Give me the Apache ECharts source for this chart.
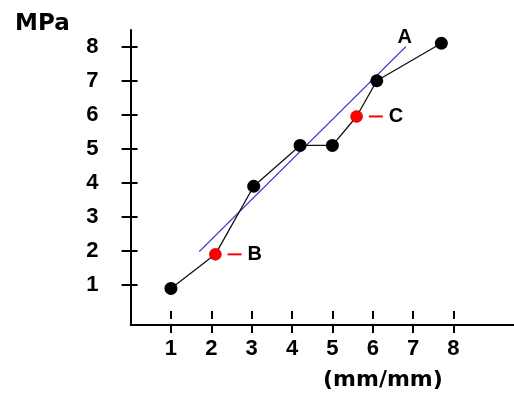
<!DOCTYPE html>
<html>
<head>
<meta charset="utf-8">
<style>
  html, body { margin: 0; padding: 0; background: #ffffff; }
  #chart { width: 514px; height: 395px; }
</style>
<script src="https://cdn.jsdelivr.net/npm/echarts@6/dist/echarts.min.js"></script>
</head>
<body>
<div id="chart"></div>
<script>
// Measured stress–strain points (strain in mm/mm, stress in MPa)
const strain = [1.0, 2.1, 3.05, 4.2, 5.0, 5.6, 6.1, 7.7];
const stress = [0.9, 1.9, 3.9, 5.1, 5.1, 5.95, 7.0, 8.1];
// Highlighted points and their letters
const markedIndex = [1, 5];
const markedNames = ['B', 'C'];
// Fitted trend line A (two end points)
const fitX = [1.7, 6.82];
const fitY = [1.98, 8.0];
const fitName = 'A';
// Tick labels
const xTicks = [1, 2, 3, 4, 5, 6, 7, 8];
const yTicks = [1, 2, 3, 4, 5, 6, 7, 8];

const measured = strain.map((x, i) => [x, stress[i]]);
const plain = measured.filter((_, i) => !markedIndex.includes(i));
const marked = markedIndex.map((idx, k) => ({ value: measured[idx], name: markedNames[k] }));
const fitLine = fitX.map((x, i) => [x, fitY[i]]);

const digitFont = { fontFamily: '"Liberation Sans", Arial, sans-serif', fontWeight: 'bold', fontSize: 22, color: '#000' };
const axisLine = { show: true, onZero: false, lineStyle: { color: '#000', width: 2 } };

const chart = echarts.init(document.getElementById('chart'), null, { renderer: 'canvas' });
chart.setOption({
  animation: false,
  backgroundColor: '#ffffff',
  title: [
    { text: 'MPa', left: 10, top: 8,
      textStyle: { fontFamily: 'DejaVu Sans', fontWeight: 'bold', fontSize: 23, color: '#000' } },
    { text: '(mm/mm)', left: 318, top: 364,
      textStyle: { fontFamily: 'DejaVu Sans', fontWeight: 'bold', fontSize: 22, color: '#000' } }
  ],
  grid: { left: 130.6, right: 0, top: 30, bottom: 70 },
  xAxis: [
    { type: 'value', min: 0, max: 9.5, position: 'bottom',
      axisLine: axisLine, splitLine: { show: false },
      axisTick: { show: true, customValues: xTicks, length: 8, inside: false, lineStyle: { color: '#000', width: 2 } },
      axisLabel: { show: true, customValues: xTicks, margin: 13, ...digitFont } },
    { type: 'value', min: 0, max: 9.5, position: 'bottom',
      axisLine: { show: false }, splitLine: { show: false },
      axisTick: { show: true, customValues: xTicks, length: 8, inside: true, lineStyle: { color: '#000', width: 2 } },
      axisLabel: { show: false } }
  ],
  yAxis: [
    { type: 'value', min: -0.175, max: 8.49, position: 'left',
      axisLine: axisLine, splitLine: { show: false },
      axisTick: { show: true, customValues: yTicks, length: 9, inside: false, lineStyle: { color: '#000', width: 2 } },
      axisLabel: { show: true, customValues: yTicks, margin: 32, ...digitFont } },
    { type: 'value', min: -0.175, max: 8.49, position: 'left',
      axisLine: { show: false }, splitLine: { show: false },
      axisTick: { show: true, customValues: yTicks, length: 7, inside: true, lineStyle: { color: '#000', width: 2 } },
      axisLabel: { show: false } }
  ],
  series: [
    { // trend line A
      type: 'line', data: fitLine, symbol: 'none', z: 3,
      lineStyle: { color: '#2a2ac8', width: 1.2 },
      endLabel: { show: true, formatter: fitName, position: 'top', distance: 4, offset: [-5, 1],
        fontFamily: '"Liberation Sans", Arial, sans-serif', fontWeight: 'bold', fontSize: 20, color: '#000',
        align: 'center', verticalAlign: 'bottom' }
    },
    { // measured curve
      type: 'line', data: measured, symbol: 'none', z: 4,
      lineStyle: { color: '#111', width: 1.3 }
    },
    { // black points
      type: 'scatter', data: plain, symbol: 'circle', symbolSize: 13, z: 5,
      itemStyle: { color: '#000', opacity: 1 }
    },
    { // red points with letters
      type: 'scatter', data: marked, symbol: 'circle', symbolSize: 12, z: 6,
      itemStyle: { color: '#ff0000', borderColor: '#b00000', borderWidth: 0.5, opacity: 1 },
      label: {
        show: true, position: 'right', distance: 6,
        formatter: p => '{d|}{s|}{l|' + p.name + '}',
        rich: {
          d: { width: 14, height: 2, backgroundColor: '#ff0000' },
          s: { width: 6 },
          l: { fontFamily: '"Liberation Sans", Arial, sans-serif', fontWeight: 'bold', fontSize: 20, color: '#000' }
        }
      }
    }
  ]
});
</script>
</body>
</html>
